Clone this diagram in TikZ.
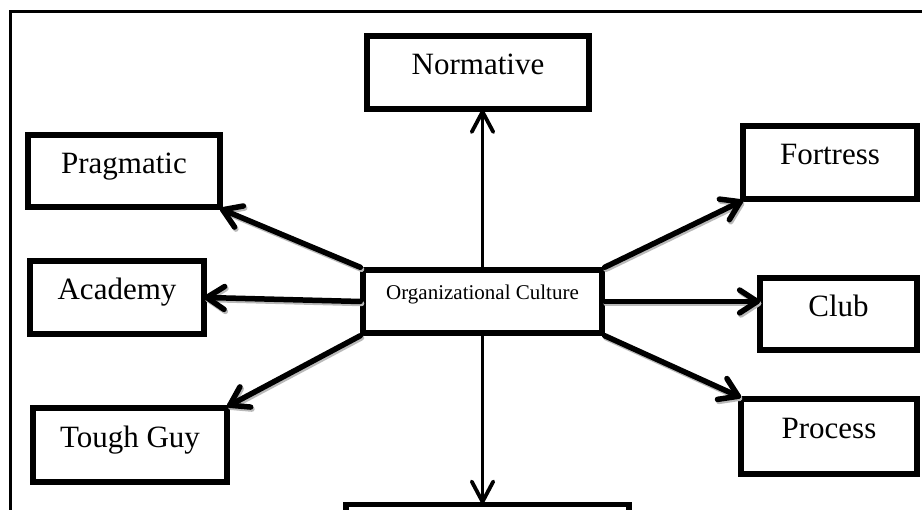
\documentclass[tikz,border=0pt]{standalone}
\usepackage{fontspec}
\setmainfont{Liberation Serif}
\usetikzlibrary{calc}

% a connector with an open V head drawn at its target end
\newcommand\spokeline[4]{%
  \draw (#1) -- (#2);
  \draw ($(#2)!#3!#4:(#1)$) -- (#2) -- ($(#2)!#3!-#4:(#1)$);}

\begin{document}
\begin{tikzpicture}[x=1pt,y=-1pt,
  box/.style={draw, line width=5.5pt, fill=white, inner sep=0pt,
    font=\fontsize{31}{36}\selectfont, text height=22pt, text depth=17pt},
  core/.style={box, font=\fontsize{21}{25}\selectfont, text height=14pt, text depth=17pt},
  arr/.style={line width=5.5pt, line join=round, line cap=round},
  arrshade/.style={arr, draw=gray!55},
  varr/.style={line width=3.8pt, line join=round, line cap=round},
  frame/.style={line width=3.5pt}]
\useasboundingbox (0,0) rectangle (922,510);
\clip (0,0) rectangle (922,510);
\fill[white] (0,0) rectangle (922,510);

% outer frame (only left and top edges fall inside the page)
\draw[frame] (10.7,530) -- (10.7,11.4) -- (940,11.4);

% culture types
\node[box, minimum width=222pt, minimum height=73pt] (norm)  at (478,72.5)   {Normative};
\node[box, minimum width=192pt, minimum height=72pt] (prag)  at (124,171)    {Pragmatic};
\node[box, minimum width=174pt, minimum height=73pt] (acad)  at (117,297.5)  {Academy};
\node[box, minimum width=194pt, minimum height=74pt] (tough) at (130,445)    {Tough Guy};
\node[box, minimum width=174pt, minimum height=73pt] (fort)  at (830,162.5)  {Fortress};
\node[box, minimum width=157pt, minimum height=72pt] (club)  at (838.5,314)  {Club};
\node[box, minimum width=176pt, minimum height=75pt] (proc)  at (829,436.5)  {Process};
\node[box, minimum width=283pt, minimum height=80pt] (bot)   at (487.5,544.5) {};

% central concept
\node[core, minimum width=239pt, minimum height=63pt] (cc) at (482.5,301.5) {Organizational Culture};

% radial connectors: grey drop shadow first, then the black arrow
\def\spokes{cc.north west/prag.south east, cc.west/acad.east,
  cc.south west/tough.north east, cc.north east/fort.south west,
  cc.east/cc.east -| club.west, cc.south east/proc.north west}
\begin{scope}[transform canvas={shift={(1.3,2)}}, arrshade]
  \foreach \s/\t in \spokes { \spokeline{\s}{\t}{21pt}{33} }
\end{scope}
\begin{scope}[arr]
  \foreach \s/\t in \spokes { \spokeline{\s}{\t}{21pt}{33} }
\end{scope}

% vertical connectors
\begin{scope}[varr]
  \spokeline{cc.north}{cc.north |- norm.south}{23pt}{28}
  \spokeline{cc.south}{cc.south |- bot.north}{23pt}{28}
\end{scope}
\end{tikzpicture}
\end{document}
